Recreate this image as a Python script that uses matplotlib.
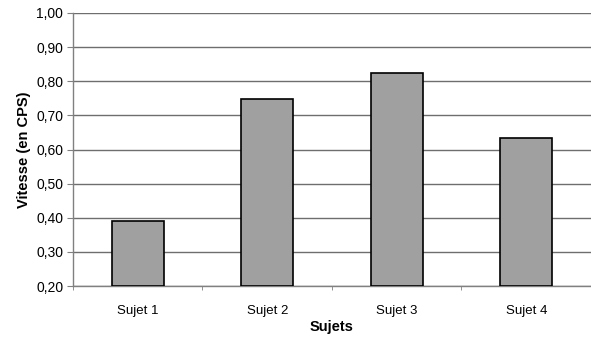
import matplotlib.pyplot as plt
import numpy as np

plt.rcParams['font.family'] = ['Liberation Sans', 'DejaVu Sans']

sujets = ['Sujet 1', 'Sujet 2', 'Sujet 3', 'Sujet 4']
vitesse = [0.39, 0.747, 0.825, 0.634]
y_ticks = [0.2, 0.3, 0.4, 0.5, 0.6, 0.7, 0.8, 0.9, 1.0]

fig = plt.figure(figsize=(5.91, 3.42), dpi=100)
ax = fig.add_axes([0.1235, 0.1637, 0.8765, 0.7983])

x = np.arange(len(sujets))
ax.set_ylim(0.2, 1.0)
ax.set_xlim(-0.5, len(sujets) - 0.5)
ax.set_yticks(y_ticks)
ax.set_yticklabels([f'{v:.2f}'.replace('.', ',') for v in y_ticks])
ax.yaxis.grid(True, color='#6e6e6e', linewidth=1)
ax.set_axisbelow(True)

ax.bar(x, [v - 0.2 for v in vitesse], bottom=0.2, width=0.4,
       color='#a0a0a0', edgecolor='black', linewidth=1.2, zorder=3)

ax.set_xticks(x)
ax.set_xticklabels(sujets)
ax.set_xticks(np.arange(-0.5, len(sujets)), minor=True)
ax.tick_params(axis='x', which='major', length=0, labelsize=9.5, pad=14)
ax.tick_params(axis='x', which='minor', length=3, color='#808080', direction='out')
ax.tick_params(axis='y', length=4, color='#808080', direction='out', labelsize=10, pad=3)

for side in ['top', 'right']:
    ax.spines[side].set_visible(False)
for side in ['left', 'bottom']:
    ax.spines[side].set_color('#808080')
    ax.spines[side].set_linewidth(1)

ax.set_xlabel('Sujets', fontsize=10.5, fontweight='bold', labelpad=2)
ax.set_ylabel('Vitesse (en CPS)', fontsize=10.5, fontweight='bold', labelpad=4)

fig.savefig('out.png', dpi=100)
